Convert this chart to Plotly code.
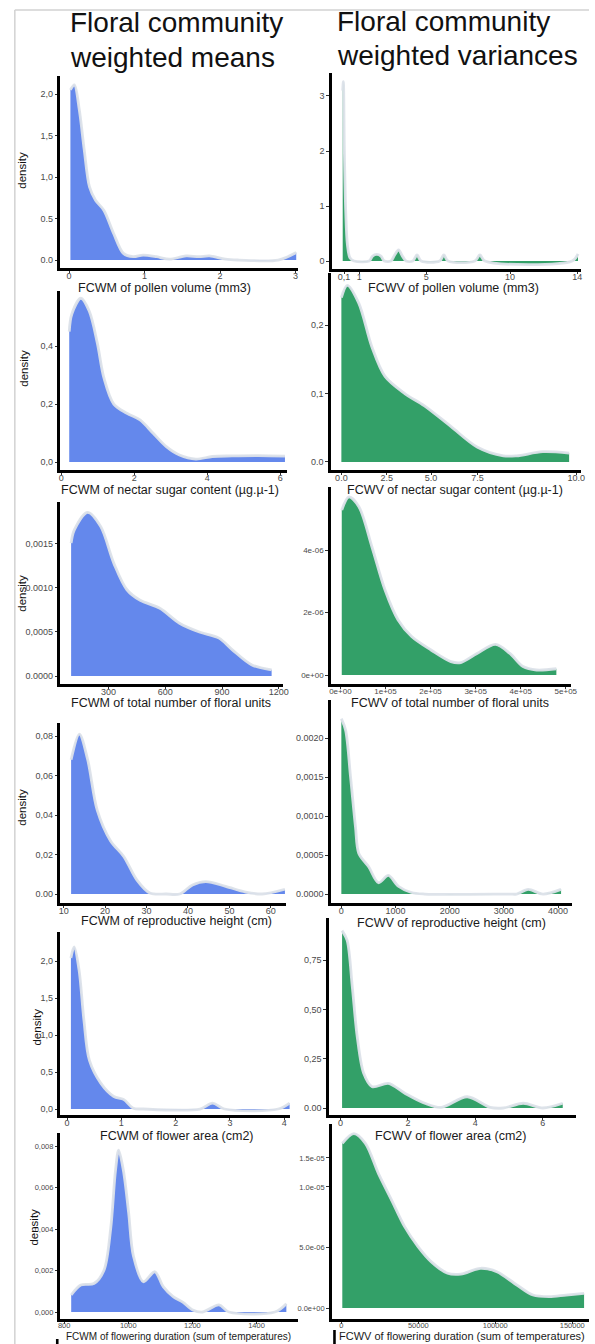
import plotly.graph_objects as go

W, H = 595, 1344

# ---------------- data ----------------
# Floral community weighted means (left column)
pollen_m_x = [0.017, 0.07, 0.135, 0.2, 0.27, 0.35, 0.46, 0.59, 0.72, 0.85, 0.98, 1.16, 1.33, 1.55, 1.72, 1.86, 2.07, 2.25, 2.77, 3.01]
pollen_m_y = [2.05, 2.11, 1.81, 1.33, 0.88, 0.72, 0.60, 0.32, 0.08, 0.04, 0.06, 0.04, 0.01, 0.05, 0.04, 0.05, 0.01, 0.0, 0.0, 0.09]

nectar_m_x = [0.22, 0.29, 0.54, 0.77, 0.99, 1.17, 1.44, 1.8, 2.16, 2.52, 2.88, 3.24, 3.69, 4.14, 4.68, 5.4, 6.13]
nectar_m_y = [0.45, 0.51, 0.565, 0.52, 0.41, 0.29, 0.20, 0.168, 0.145, 0.099, 0.053, 0.024, 0.010, 0.019, 0.021, 0.022, 0.020]

units_m_x = [102, 119, 189, 258, 328, 397, 467, 571, 675, 780, 884, 953, 1058, 1162]
units_m_y = [0.00151, 0.00166, 0.00186, 0.00170, 0.00128, 0.00098, 0.00086, 0.00077, 0.00060, 0.00050, 0.00043, 0.00030, 0.000125, 0.00007]

height_m_x = [11.8, 13.8, 15.8, 18.1, 21.3, 24.5, 27.7, 30.8, 34.8, 38.0, 41.1, 44.3, 49.1, 53.9, 57.9, 63.4]
height_m_y = [0.068, 0.081, 0.068, 0.0425, 0.027, 0.019, 0.007, 0.0005, 0.0, 0.0, 0.0046, 0.0063, 0.0039, 0.001, 0.0, 0.0024]

area_m_x = [0.07, 0.13, 0.22, 0.31, 0.41, 0.62, 0.86, 1.04, 1.22, 1.4, 2.45, 2.68, 2.9, 3.89, 4.1]
area_m_y = [2.04, 2.19, 1.88, 1.20, 0.66, 0.35, 0.17, 0.13, 0.01, 0.0, 0.0, 0.08, 0.0, 0.0, 0.08]

duration_m_x = [822, 852, 893, 924, 945, 960, 970, 985, 1001, 1016, 1047, 1083, 1109, 1140, 1170, 1201, 1232, 1283, 1314, 1457, 1493]
duration_m_y = [0.00082, 0.0013, 0.00137, 0.0020, 0.0040, 0.0068, 0.0078, 0.0068, 0.0048, 0.0027, 0.00146, 0.00194, 0.00122, 0.00074, 0.00048, 0.0001, 0.0, 0.00034, 0.0, 0.0, 0.0004]

# Floral community weighted variances (right column)
pollen_v_x = [0.02, 0.06, 0.12, 0.2, 0.3, 0.45, 0.7, 1.6, 1.8, 2.05, 2.3, 2.5, 2.9, 3.1, 3.35, 3.6, 3.8, 4.2, 4.45, 4.7, 5.8, 6.05, 6.3, 7.9, 8.2, 8.5, 13.7, 14.05]
pollen_v_y = [3.10, 3.26, 2.0, 0.9, 0.3, 0.06, 0.0, 0.0, 0.09, 0.12, 0.09, 0.0, 0.0, 0.1, 0.2, 0.08, 0.0, 0.0, 0.11, 0.0, 0.0, 0.11, 0.0, 0.0, 0.11, 0.0, 0.0, 0.13]

nectar_v_x = [0.0, 0.25, 0.74, 1.3, 1.86, 2.7, 3.54, 4.66, 5.78, 6.9, 7.46, 8.58, 9.7]
nectar_v_y = [0.240, 0.258, 0.232, 0.168, 0.125, 0.100, 0.082, 0.052, 0.022, 0.009, 0.009, 0.015, 0.013]

units_v_x = [3000, 19000, 41000, 70000, 99000, 128000, 158000, 201000, 245000, 267000, 303000, 344000, 376000, 405000, 435000, 479000]
units_v_y = [5.28e-6, 5.7e-6, 5.39e-6, 4.1e-6, 2.72e-6, 1.76e-6, 1.23e-6, 0.8e-6, 0.43e-6, 0.4e-6, 0.69e-6, 0.98e-6, 0.69e-6, 0.27e-6, 0.16e-6, 0.2e-6]

height_v_x = [0, 79, 170, 261, 322, 504, 686, 868, 1051, 1293, 1536, 3100, 3236, 3449, 3722, 4056]
height_v_y = [0.00225, 0.0021, 0.0015, 0.00086, 0.00052, 0.00035, 0.000145, 0.00024, 0.0001, 0.00002, 0.0, 0.0, 0.0, 0.00006, 0.0, 0.00006]

area_v_x = [0.05, 0.2, 0.35, 0.5, 0.69, 0.94, 1.42, 1.91, 2.5, 2.99, 3.76, 4.44, 4.83, 5.42, 6.0, 6.59]
area_v_y = [0.90, 0.85, 0.62, 0.36, 0.176, 0.108, 0.125, 0.075, 0.024, 0.003, 0.057, 0.003, 0.0, 0.024, 0.0, 0.024]

duration_v_x = [600, 8100, 15600, 24100, 32700, 41200, 49800, 58300, 69000, 77600, 90400, 101000, 114000, 124500, 135000, 146000, 157700]
duration_v_y = [13.6e-6, 14.4e-6, 13.6e-6, 11.1e-6, 8.9e-6, 6.7e-6, 5.07e-6, 3.83e-6, 2.87e-6, 2.8e-6, 3.28e-6, 3.0e-6, 1.9e-6, 1.07e-6, 0.94e-6, 1.07e-6, 1.2e-6]

# axis titles
titles_m = ["FCWM of pollen volume (mm3)", "FCWM of nectar sugar content (µg.µ-1)",
            "FCWM of total number of floral units", "FCWM of reproductive height (cm)",
            "FCWM of flower area (cm2)", "FCWM of flowering duration (sum of temperatures)"]
titles_v = ["FCWV of pollen volume (mm3)", "FCWV of nectar sugar content (µg.µ-1)",
            "FCWV of total number of floral units", "FCWV of reproductive height (cm)",
            "FCWV of flower area (cm2)", "FCWV of flowering duration (sum of temperatures)"]

# tick labels
xt_m = [([0, 1, 2, 3], ["0", "1", "2", "3"]),
        ([0, 2, 4, 6], ["0", "2", "4", "6"]),
        ([300, 600, 900, 1200], ["300", "600", "900", "1200"]),
        ([10, 20, 30, 40, 50, 60], ["10", "20", "30", "40", "50", "60"]),
        ([0, 1, 2, 3, 4], ["0", "1", "2", "3", "4"]),
        ([800, 1000, 1200, 1400], ["800", "1000", "1200", "1400"])]
yt_m = [([0, 0.5, 1, 1.5, 2], ["0.0", "0.5", "1,0", "1,5", "2,0"]),
        ([0, 0.2, 0.4], ["0,0", "0,2", "0,4"]),
        ([0, 0.0005, 0.001, 0.0015], ["0.0000", "0,0005", "0.0010", "0,0015"]),
        ([0, 0.02, 0.04, 0.06, 0.08], ["0.00", "0,02", "0,04", "0,06", "0,08"]),
        ([0, 0.5, 1, 1.5, 2], ["0,0", "0,5", "1,0", "1,5", "2,0"]),
        ([0, 0.002, 0.004, 0.006, 0.008], ["0,000", "0,002", "0,004", "0,006", "0,008"])]
xt_v = [([0.1, 1, 5, 10, 14], ["0,1", "1", "5", "10", "14"]),
        ([0, 1.93, 3.82, 5.8, 10], ["0.0", "2.5", "5.0", "7.5", "10.0"]),
        ([0, 1e5, 2e5, 3e5, 4e5, 5e5], ["0e+00", "1e+05", "2e+05", "3e+05", "4e+05", "5e+05"]),
        ([0, 1000, 2000, 3000, 4000], ["0", "1000", "2000", "3000", "4000"]),
        ([0, 2, 4, 6], ["0", "2", "4", "6"]),
        ([0, 50000, 100000, 150000], ["0", "50000", "100000", "150000"])]
yt_v = [([0, 1, 2, 3], ["0", "1", "2", "3"]),
        ([0, 0.1, 0.2], ["0.0", "0,1", "0,2"]),
        ([0, 2e-6, 4e-6], ["0e+00", "2e-06", "4e-06"]),
        ([0, 0.0005, 0.001, 0.0015, 0.002], ["0.0000", "0,0005", "0,0010", "0,0015", "0.0020"]),
        ([0, 0.25, 0.5, 0.75], ["0.00", "0,25", "0,50", "0,75"]),
        ([0, 5e-6, 1e-5, 1.24e-5], ["0.0e+00", "5.0e-06", "1.0e-05", "1.5e-05"])]

series_m = [(pollen_m_x, pollen_m_y), (nectar_m_x, nectar_m_y), (units_m_x, units_m_y),
            (height_m_x, height_m_y), (area_m_x, area_m_y), (duration_m_x, duration_m_y)]
series_v = [(pollen_v_x, pollen_v_y), (nectar_v_x, nectar_v_y), (units_v_x, units_v_y),
            (height_v_x, height_v_y), (area_v_x, area_v_y), (duration_v_x, duration_v_y)]

# ---------------- layout / style (pixel geometry) ----------------
BLUE = "#6488ec"
GREEN = "#33a068"
HALO = "rgba(220,226,233,0.95)"

# (x domain px, y domain px top/bottom, x range, y range)
geo_m = [((59, 300), (76, 268), (-0.118, 3.033), (-0.096, 2.217)),
         ((59, 289), (291, 470), (-0.027, 6.189), (-0.0276, 0.590)),
         ((59, 285), (502, 684), (44.3, 1223), (-0.0000909, 0.001977)),
         ((59, 288), (723, 903), (9.17, 63.69), (-0.00456, 0.0866)),
         ((59, 292), (932, 1115), (-0.127, 4.109), (-0.081, 2.392)),
         ((59, 300), (1133, 1319), (787.7, 1529.2), (-0.000337, 0.00863))]
geo_v = [((334, 587), (73, 269), (-0.647, 14.235), (-0.145, 3.418)),
         ((333, 587), (273, 470), (-0.462, 10.21), (-0.0117, 0.276)),
         ((333, 577), (487, 684), (-21900, 512000), (-0.288e-6, 6.02e-6)),
         ((333, 578), (700, 903), (-200, 4262), (-0.000115, 0.00249)),
         ((331, 582), (918, 1115), (-0.351, 6.988), (-0.0355, 0.964)),
         ((334, 595), (1124, 1319), (-6410, 160900), (-0.909e-6, 15.2e-6))]
# tick font sizes per panel (left, right)
tf_m = [9, 9, 9, 9, 9, 7.5]
tf_v = [9, 9, 8, 9, 9, 7.5]

# x-title positions (center x px, y px, font size, anchor)
xtitle_m = [(165, 288, 12.5, "center"), (170, 490, 12.5, "center"), (171, 703, 12.5, "center"),
            (177, 921, 12.5, "center"), (177, 1136, 12.5, "center"), (179, 1336, 10, "center")]
xtitle_v = [(458, 288, 12.5, "center"), (459, 490, 12.5, "center"), (454, 703, 12.5, "center"),
            (456, 923, 12.5, "center"), (455, 1136, 12.5, "center"), (340, 1336, 11, "left")]
density_pos = [(20, 170), (22, 368), (20, 593), (20, 807), (35, 1027), (32, 1227)]


def px(x):
    return x / W


def py(y):
    return 1 - y / H


fig = go.Figure()
layout = dict(width=W, height=H, autosize=False,
              margin=dict(l=0, r=0, t=0, b=0),
              paper_bgcolor="white", plot_bgcolor="white",
              showlegend=False,
              font=dict(family="Liberation Sans, Arial, sans-serif", color="#222"))
annotations = []

panels = []
for i in range(6):
    panels.append((series_m[i], geo_m[i], xt_m[i], yt_m[i], BLUE, titles_m[i], xtitle_m[i], tf_m[i]))
    panels.append((series_v[i], geo_v[i], xt_v[i], yt_v[i], GREEN, titles_v[i], xtitle_v[i], tf_v[i]))

for k, (ser, geo, xt, yt, col, ttl, tpos, tfs) in enumerate(panels):
    n = k + 1
    xa = "x" if n == 1 else f"x{n}"
    ya = "y" if n == 1 else f"y{n}"
    xkey = "xaxis" if n == 1 else f"xaxis{n}"
    ykey = "yaxis" if n == 1 else f"yaxis{n}"
    (xd, yd, xr, yr) = geo
    fig.add_trace(go.Scatter(x=ser[0], y=ser[1], mode="lines", fill="tozeroy",
                             fillcolor=col, line=dict(color=HALO, width=2.8, shape="spline", smoothing=0.9),
                             xaxis=xa, yaxis=ya, hoverinfo="skip"))
    axis_common = dict(showgrid=False, zeroline=False, showline=True, linecolor="black",
                       linewidth=2.6, ticks="outside", ticklen=2.5, tickwidth=1, tickcolor="#333",
                       tickfont=dict(size=tfs, color="#4a4a4a"), fixedrange=True)
    layout[xkey] = dict(domain=[px(xd[0]), px(xd[1])], range=list(xr), anchor=ya,
                        tickvals=xt[0], ticktext=xt[1], ticklabelstandoff=-5, **axis_common)
    layout[ykey] = dict(domain=[py(yd[1]), py(yd[0])], range=list(yr), anchor=xa,
                        tickvals=yt[0], ticktext=yt[1], **axis_common)
    annotations.append(dict(text=ttl, xref="paper", yref="paper", x=px(tpos[0]), y=py(tpos[1]),
                            xanchor=tpos[3], yanchor="middle", showarrow=False,
                            font=dict(size=tpos[2], color="#1a1a1a")))

for (dx, dy) in density_pos:
    annotations.append(dict(text="density", xref="paper", yref="paper", x=px(dx), y=py(dy),
                            xanchor="center", yanchor="middle", textangle=-90, showarrow=False,
                            font=dict(size=11.5, color="#111")))

# column titles
for (tx, ty, txt) in [(67, 23, "Floral community"), (67, 57, "weighted means"),
                      (338, 21, "Floral community"), (338, 55, "weighted variances")]:
    annotations.append(dict(text=txt, xref="paper", yref="paper", x=px(tx), y=py(ty),
                            xanchor="left", yanchor="middle", showarrow=False,
                            font=dict(size=28, color="#111")))

layout["annotations"] = annotations
layout["shapes"] = [
    dict(type="line", xref="paper", yref="paper", x0=px(13), x1=px(13), y0=py(10), y1=0,
         line=dict(color="#d2d2d2", width=1.5)),
    dict(type="line", xref="paper", yref="paper", x0=px(13), x1=1, y0=py(10), y1=py(10),
         line=dict(color="#d2d2d2", width=1.5)),
    dict(type="line", xref="paper", yref="paper", x0=px(56), x1=px(56), y0=py(1339), y1=0,
         line=dict(color="black", width=2.6)),
    dict(type="line", xref="paper", yref="paper", x0=px(337), x1=px(337), y0=py(1330), y1=0,
         line=dict(color="black", width=2.6)),
]
fig.update_layout(**layout)
fig.write_html("out.html", config={"displayModeBar": False},
               post_script="document.body.style.margin='0px';document.body.style.overflow='hidden';")
